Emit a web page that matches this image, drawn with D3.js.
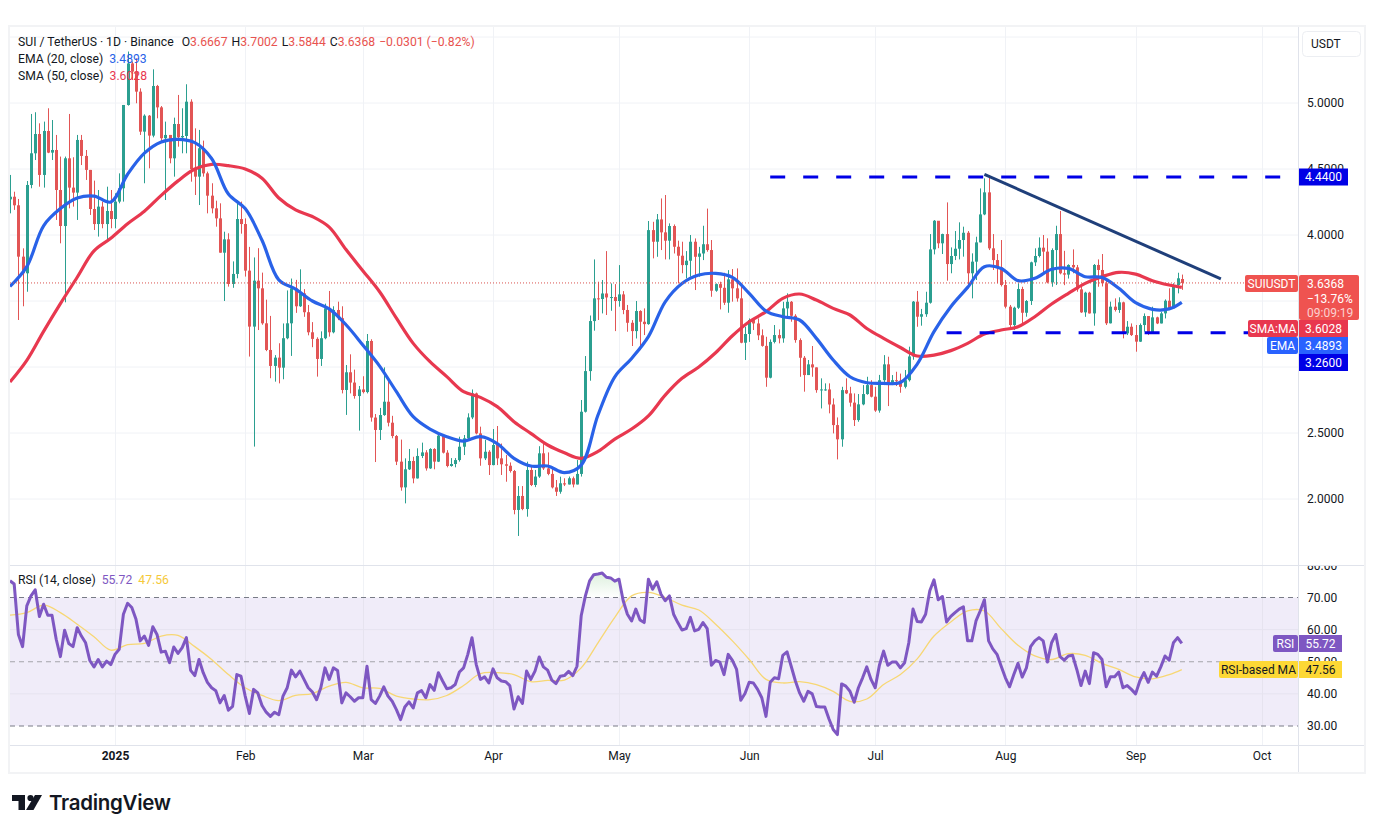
<!DOCTYPE html>
<html>
<head>
<meta charset="utf-8">
<title>SUIUSDT</title>
<script src="https://cdn.jsdelivr.net/npm/d3@7"></script>
<style>
    html, body { margin: 0; padding: 0; background: #fff; }
    svg { display: block; }
    text { font-family: Roboto, sans-serif; font-size: 12px; fill: #131722; }
</style>
</head>
<body>
<div id="chart"></div>
<script>
// daily bars, first bar is 7 Dec 2024, one value per bar. open = previous close
const firstOpen = 4.27;
const closes = [
    4.29,4.225,3.836,3.71,4.379,4.619,4.765,4.455,4.788,4.624,
    4.644,4.341,4.068,4.581,4.359,4.321,4.72,4.599,4.493,4.197,
    4.083,4.215,4.083,4.182,4.121,4.253,4.354,4.985,5.30,5.238,
    5.086,4.783,4.904,4.753,5.129,4.967,4.733,4.758,4.581,4.841,
    4.74,4.75,5.01,4.50,4.442,4.657,4.467,4.298,4.202,4.126,
    3.866,3.967,3.629,3.705,4.121,4.083,3.73,3.306,3.654,3.596,
    3.331,3.129,3.008,3.071,2.995,3.218,3.331,3.596,3.46,3.558,
    3.415,3.263,3.213,3.061,3.218,3.445,3.263,3.432,3.37,2.826,
    2.96,2.882,2.78,2.83,2.81,3.197,2.617,2.523,2.636,2.737,
    2.578,2.477,2.283,2.088,2.225,2.288,2.156,2.326,2.353,2.232,
    2.379,2.283,2.48,2.351,2.25,2.265,2.295,2.396,2.46,2.618,
    2.80,2.497,2.308,2.358,2.257,2.409,2.308,2.263,2.252,2.212,
    1.917,2.023,1.924,2.22,2.106,2.17,2.346,2.232,2.19,2.088,
    2.055,2.119,2.11,2.157,2.11,2.19,2.661,2.969,3.348,3.52,
    3.515,3.557,3.527,3.53,3.5,3.55,3.432,3.335,3.272,3.424,
    3.343,3.325,4.037,3.949,4.118,4.02,3.957,4.068,3.911,3.843,
    3.772,3.805,3.949,3.835,3.86,3.93,3.886,3.578,3.628,3.6,
    3.487,3.664,3.596,3.52,3.184,3.25,3.356,3.33,3.24,3.16,
    2.919,3.19,3.242,3.217,3.444,3.494,3.388,3.204,3.07,2.939,
    3.02,2.997,2.825,2.83,2.83,2.716,2.56,2.452,2.825,2.80,
    2.73,2.598,2.717,2.795,2.863,2.775,2.67,2.90,3.02,2.876,
    2.90,2.897,2.85,2.90,3.08,3.495,3.381,3.40,3.487,3.891,
    4.108,3.937,4.007,3.78,3.841,3.896,3.962,4.017,3.71,3.798,
    3.944,4.156,4.323,3.899,3.81,3.755,3.621,3.457,3.318,3.449,
    3.591,3.411,3.50,3.793,3.841,3.904,3.874,3.641,3.886,4.007,
    3.71,3.70,3.773,3.755,3.588,3.414,3.563,3.406,3.773,3.735,
    3.634,3.331,3.457,3.432,3.49,3.255,3.305,3.242,3.192,3.318,
    3.386,3.26,3.376,3.33,3.406,3.502,3.444,3.621,3.672,3.6368
];
const highs = [
    4.455,4.328,4.273,3.899,4.409,4.917,4.93,4.846,4.859,4.96,
    4.871,4.758,4.594,4.594,4.917,4.589,4.758,4.758,4.644,4.493,
    4.412,4.341,4.253,4.366,4.341,4.316,4.467,4.985,5.39,5.313,
    5.339,5.111,4.914,4.909,5.255,5.137,4.977,4.859,4.758,4.889,
    5.061,4.96,5.142,5.028,4.808,4.796,4.715,4.48,4.392,4.26,
    4.24,4.025,4.013,3.80,4.265,4.253,4.126,3.91,3.83,3.90,
    3.715,3.51,3.387,3.09,3.18,3.33,3.58,3.67,3.66,3.74,
    3.59,3.47,3.34,3.225,3.27,3.48,3.576,3.46,3.495,3.46,
    3.015,3.096,2.98,2.856,2.93,3.25,3.21,2.644,2.69,2.997,
    2.894,2.63,2.485,2.45,2.308,2.379,2.32,2.384,2.427,2.37,
    2.385,2.385,2.497,2.49,2.37,2.31,2.31,2.472,2.485,2.649,
    2.83,2.806,2.548,2.447,2.37,2.53,2.553,2.42,2.333,2.277,
    2.22,2.098,2.098,2.283,2.245,2.22,2.40,2.42,2.353,2.245,
    2.144,2.169,2.157,2.17,2.17,2.295,2.75,3.083,3.39,3.815,
    3.646,3.659,3.878,3.633,3.628,3.772,3.575,3.47,3.355,3.50,
    3.43,3.444,4.106,4.10,4.159,4.277,4.303,4.088,4.08,3.957,
    3.949,3.878,4.0,3.974,3.91,4.07,4.2,3.962,3.633,3.646,
    3.714,3.734,3.742,3.747,3.608,3.305,3.368,3.368,3.368,3.285,
    3.229,3.209,3.318,3.285,3.494,3.558,3.50,3.40,3.217,3.083,
    3.053,3.159,2.997,2.914,2.876,2.876,2.762,2.618,2.85,2.914,
    2.85,2.80,2.795,2.863,2.926,2.90,2.85,2.94,3.09,3.078,
    2.939,2.964,2.95,2.977,3.154,3.50,3.576,3.44,3.57,4.007,
    4.113,4.106,4.01,4.247,3.906,4.03,4.096,4.063,4.03,3.861,
    3.987,4.353,4.429,4.454,4.007,3.856,3.962,3.659,3.47,3.457,
    3.634,3.608,3.507,3.798,3.899,3.982,4.0,3.975,3.899,4.07,
    4.182,3.88,3.778,3.891,3.773,3.62,3.57,3.57,3.78,3.815,
    3.856,3.659,3.495,3.52,3.528,3.495,3.348,3.33,3.318,3.33,
    3.406,3.386,3.457,3.381,3.419,3.512,3.596,3.634,3.714,3.7002
];
const lows = [
    4.164,4.19,3.356,3.46,3.57,4.354,4.568,4.366,4.359,4.62,
    4.568,4.114,3.937,3.49,4.202,4.215,4.114,4.53,4.417,4.152,
    4.038,3.988,4.051,3.962,4.051,4.051,4.24,4.253,4.98,5.174,
    4.998,4.758,4.392,4.505,4.74,4.884,4.707,4.265,4.543,4.442,
    4.669,4.619,4.619,4.404,4.303,4.227,4.442,4.164,4.164,4.063,
    3.866,3.5,3.609,3.60,3.672,4.01,3.685,3.079,2.397,3.28,
    3.32,3.12,2.915,2.889,2.876,2.907,3.21,3.084,3.41,3.455,
    3.38,3.24,3.15,2.927,3.008,3.21,3.23,3.255,3.355,2.80,
    2.637,2.80,2.76,2.518,2.80,2.80,2.586,2.28,2.447,2.63,
    2.55,2.46,2.257,2.063,1.967,2.22,2.119,2.155,2.31,2.215,
    2.228,2.225,2.28,2.345,2.24,2.245,2.24,2.283,2.333,2.447,
    2.605,2.49,2.252,2.295,2.182,2.255,2.257,2.182,2.131,2.2,
    1.884,1.72,1.915,1.866,2.098,2.09,2.16,2.22,2.18,2.08,
    2.023,2.04,2.098,2.11,2.088,2.11,2.17,2.655,2.896,3.275,
    3.356,3.406,3.394,3.426,3.272,3.457,3.40,3.267,3.159,3.216,
    3.128,3.242,3.32,3.823,3.835,3.886,3.815,3.815,3.86,3.633,
    3.71,3.671,3.684,3.583,3.684,3.81,3.873,3.532,3.57,3.436,
    3.47,3.411,3.495,3.495,3.18,3.053,3.19,3.28,3.204,3.154,
    2.85,2.914,3.179,3.179,3.184,3.38,3.343,3.184,2.926,2.813,
    2.939,2.926,2.805,2.686,2.82,2.649,2.497,2.30,2.396,2.795,
    2.70,2.553,2.585,2.71,2.79,2.77,2.66,2.654,2.863,2.704,
    2.863,2.856,2.805,2.838,2.89,3.055,3.305,3.313,3.38,3.48,
    3.853,3.9,3.856,3.654,3.71,3.81,3.815,3.836,3.596,3.52,
    3.659,3.944,4.15,3.886,3.735,3.634,3.61,3.444,3.293,3.28,
    3.44,3.33,3.381,3.47,3.765,3.83,3.71,3.634,3.608,3.621,
    3.702,3.62,3.67,3.71,3.57,3.41,3.38,3.405,3.313,3.608,
    3.61,3.318,3.33,3.42,3.41,3.217,3.242,3.235,3.116,3.19,
    3.268,3.242,3.255,3.325,3.33,3.368,3.432,3.457,3.558,3.5844
];
// moving averages, last one on the last bar
const maBars = d3.range(0, 280, 4).concat([279]);
const emaValues = [
    3.61,3.76,4.07,4.20,4.28,4.295,4.25,4.46,4.62,4.705,
    4.725,4.70,4.58,4.31,4.20,3.96,3.66,3.59,3.50,3.44,
    3.32,3.167,3.007,2.813,2.624,2.53,2.472,2.439,2.472,2.42,
    2.308,2.25,2.25,2.20,2.257,2.636,2.926,3.065,3.23,3.494,
    3.633,3.697,3.709,3.679,3.558,3.424,3.381,3.356,3.217,3.053,
    2.926,2.881,2.876,2.883,3.022,3.268,3.457,3.603,3.76,3.747,
    3.654,3.672,3.74,3.747,3.684,3.679,3.596,3.487,3.437,3.44,3.4893
];
const smaValues = [
    2.886,3.05,3.27,3.48,3.68,3.88,3.975,4.085,4.18,4.30,
    4.41,4.50,4.535,4.525,4.50,4.43,4.28,4.19,4.14,4.06,
    3.89,3.73,3.57,3.37,3.179,3.04,2.927,2.813,2.77,2.70,
    2.586,2.497,2.409,2.35,2.308,2.36,2.454,2.53,2.63,2.787,
    2.914,3.0,3.108,3.237,3.343,3.419,3.52,3.553,3.507,3.444,
    3.394,3.292,3.217,3.148,3.083,3.09,3.124,3.179,3.25,3.28,
    3.305,3.381,3.477,3.558,3.634,3.684,3.717,3.704,3.654,3.621,3.6028
];
const rsiValues = [
    75.2,74.2,58.5,54.7,67.4,70.5,72.4,64.1,67.9,64.5,
    64.5,57,51.6,59.8,55.7,54.7,60.6,58,55.9,50.4,
    48.4,50.7,48.4,50.2,49.1,52.3,53.9,64.8,68.2,66.9,
    63.2,56.5,58,55.1,60.9,58.5,53,53.3,49.7,54.6,
    52.6,54.4,57.5,47.3,45.7,50.7,46.6,43.6,41.9,41,
    37.2,39.5,34.9,36.1,46,45.5,39.3,33.9,41.4,40.3,
    36.4,34.3,33,34.3,33.5,39.3,41.9,47.4,45.3,47.1,
    44.5,41.9,40.6,38.2,41.9,48.1,44.5,48.1,47.3,37.2,
    40.3,39.1,37.7,38.8,38.8,48.6,38.2,37,39.3,42.2,
    39.3,37.7,35.1,32,35.9,37.5,35.6,40.3,41,38.8,
    42.9,41.1,46.6,44,41.6,41.9,42.9,46.8,48.1,52.3,
    57.5,49.2,44.5,45.3,43.4,47.8,45,44,43.8,42.6,
    35.3,39.1,37,47.1,44.5,47.1,51.5,48.4,47.4,44.3,
    43.2,45.5,45.7,47,45.7,48.6,64.3,70.5,75.2,77.1,
    77.3,77.6,76.3,76.1,75.1,75.7,69,64.8,62.7,66.4,
    63,62.2,75.7,72.6,74.9,71,69,70.5,64.8,62.2,
    59.9,60.3,63.8,59.6,60.1,62.2,60.3,48.9,50.4,49.9,
    46,52.3,50.4,47.6,38,40.1,43.6,43.4,41.4,38.8,
    33,43.6,45,44.7,52,53.1,48.6,44,40.3,37.7,
    40.8,40,36.1,35.9,35.9,32.2,28.9,27.3,43.1,42.4,
    40.8,37.4,41.9,45,48.4,44.5,41.9,48.9,53.3,48.9,
    49.9,49.9,48.1,49.7,55.9,66.4,62.5,62.4,64.8,72.1,
    75.5,69.3,70.3,62.4,64.1,65.3,66.4,67.1,56.5,56.5,
    62.7,65.8,69.3,56.5,54,52.3,48.6,45,42.2,46,
    49.5,45.2,48.1,54.7,56.5,57.5,56.5,49.9,55.9,58.5,
    51.6,50.5,51.8,52,47.6,42.6,47.1,43.2,52.8,52.3,
    50.7,42.2,45.3,45.3,46.8,41.9,42.6,41.4,40,44,
    46.6,43.6,46.8,45.5,48.4,51.8,50.5,55.9,57.5,55.72
];
const rsiMaValues = [
    64.5,65.3,67.6,65.3,61.7,57.8,53.6,55.3,55.7,58,
    58.2,54.7,50.7,46,41.9,39.5,37.9,39.5,40.1,42.4,
    43.6,41.9,41.7,39.3,38.4,38.2,39.5,42.6,46.3,46.6,
    46,43.8,44.2,44.3,48.1,55.9,63.8,70.5,71.6,70,
    67.6,66.1,61.7,56.5,50.7,44.5,43.4,43.8,42.9,40.8,
    37.7,38.4,42.9,46,50.9,58,62.4,65.8,65.8,60.3,
    55.1,51.8,50.7,52.5,52,49.5,47.6,45.3,44.7,46,47.56
];
const gridPrices = [5.5, 5, 4.5, 4, 3.5, 3, 2.5, 2];
const priceTicks = [5, 4.5, 4, 2.5, 2];
const rsiTicks = [80, 70, 60, 50, 40, 30];
const rsiGuides = [70, 50, 30];
const monthTicks = ["2025-01-01","2025-02-01","2025-03-01","2025-04-01","2025-05-01","2025-06-01","2025-07-01","2025-08-01","2025-09-01","2025-10-01"];
const monthLabels = ["2025","Feb","Mar","Apr","May","Jun","Jul","Aug","Sep","Oct"];
// drawings: bar index and price
const resistance = {from: 181, to: 303, price: 4.44};
const support = {from: 223, to: 303, price: 3.26};
const trendBars = [232, 288.3];
const trendPrices = [4.46, 3.667];

const width = 1374, height = 833;
const paneLeft = 10, paneRight = 1298, frameRight = 1364;
const mainTop = 27, mainBottom = 565, rsiTop = 566, rsiBottom = 745, frameBottom = 772;
const firstDay = new Date(Date.UTC(2024, 11, 7));
const barDate = i => firstDay.getTime() + i * 864e5;

const x = d3.scaleUtc().domain([firstDay, new Date(Date.UTC(2025, 9, 1))]).range([paneLeft, paneLeft + 4.2 * 298]);
const bx = i => x(barDate(i));
const y = d3.scaleLinear().domain([5, 2]).range([103, 499]);
const yRsi = d3.scaleLinear().domain([70, 30]).range([597.5, 726]);

const upColor = "#2b9f90", downColor = "#e25555";
const emaColor = "#2962e8", smaColor = "#e8384f", rsiColor = "#7e57c2", rsiMaColor = "#f7d774";
const tagBlue = "#0000e6";

const svg = d3.select("#chart").append("svg").attr("width", width).attr("height", height);
const defs = svg.append("defs");
defs.append("clipPath").attr("id", "mainClip").append("rect")
    .attr("x", paneLeft).attr("y", mainTop).attr("width", paneRight - paneLeft).attr("height", mainBottom - mainTop);
defs.append("clipPath").attr("id", "rsiClip").append("rect")
    .attr("x", paneLeft).attr("y", rsiTop).attr("width", paneRight - paneLeft).attr("height", rsiBottom - rsiTop);
defs.append("clipPath").attr("id", "obClip").append("rect")
    .attr("x", paneLeft).attr("y", rsiTop).attr("width", paneRight - paneLeft).attr("height", yRsi(70) - rsiTop);
defs.append("clipPath").attr("id", "axisClip").append("rect")
    .attr("x", paneRight).attr("y", mainTop).attr("width", frameRight - paneRight).attr("height", rsiBottom - mainTop);
defs.append("clipPath").attr("id", "rsiAxisClip").append("rect")
    .attr("x", paneRight).attr("y", rsiTop).attr("width", frameRight - paneRight).attr("height", rsiBottom - rsiTop);
const obGrad = defs.append("linearGradient").attr("id", "obGrad").attr("gradientUnits", "userSpaceOnUse")
    .attr("x1", 0).attr("x2", 0).attr("y1", yRsi(78)).attr("y2", yRsi(70));
obGrad.append("stop").attr("offset", "0%").attr("stop-color", "#4caf50").attr("stop-opacity", 0.2);
obGrad.append("stop").attr("offset", "100%").attr("stop-color", "#4caf50").attr("stop-opacity", 0);

// frame and grid
const gridColor = "#f0f2f6";
const months = monthTicks.map(d => new Date(d + "T00:00:00Z"));
svg.append("g").selectAll("line").data(months).join("line")
    .attr("x1", d => Math.round(x(d)) + 0.5).attr("x2", d => Math.round(x(d)) + 0.5)
    .attr("y1", mainTop).attr("y2", rsiBottom).attr("stroke", gridColor);
svg.append("g").selectAll("line").data(gridPrices).join("line")
    .attr("x1", paneLeft).attr("x2", paneRight).attr("y1", d => y(d)).attr("y2", d => y(d)).attr("stroke", gridColor);

// rsi background sits under its grid
svg.append("rect").attr("x", paneLeft).attr("width", paneRight - paneLeft)
    .attr("y", yRsi(70)).attr("height", yRsi(30) - yRsi(70)).attr("fill", "#f0ecf9");
svg.append("g").selectAll("line").data([60, 40]).join("line")
    .attr("x1", paneLeft).attr("x2", paneRight).attr("y1", d => yRsi(d)).attr("y2", d => yRsi(d)).attr("stroke", "#e6e3ef");
svg.append("g").selectAll("line").data(months).join("line")
    .attr("x1", d => Math.round(x(d)) + 0.5).attr("x2", d => Math.round(x(d)) + 0.5)
    .attr("y1", yRsi(70)).attr("y2", yRsi(30)).attr("stroke", "#e6e3ef");

// candles
const main = svg.append("g").attr("clip-path", "url(#mainClip)");
const bars = closes.map((c, i) => ({i, close: c, open: i ? closes[i - 1] : firstOpen, high: highs[i], low: lows[i]}));
bars[279].open = 3.6667;
const barColor = d => d.close >= d.open ? upColor : downColor;
main.append("g").attr("class", "wicks").selectAll("line").data(bars).join("line")
    .attr("x1", d => Math.round(bx(d.i)) + 0.5).attr("x2", d => Math.round(bx(d.i)) + 0.5)
    .attr("y1", d => y(d.high)).attr("y2", d => y(d.low))
    .attr("stroke", barColor).attr("stroke-width", 1);
main.append("g").attr("class", "bodies").selectAll("rect").data(bars).join("rect")
    .attr("x", d => Math.round(bx(d.i)) - 1).attr("width", 3)
    .attr("y", d => y(Math.max(d.open, d.close)))
    .attr("height", d => Math.max(1, Math.abs(y(d.open) - y(d.close))))
    .attr("fill", barColor);

// moving averages
const maLine = d3.line().x((d, i) => bx(maBars[i])).y(d => y(d)).curve(d3.curveCatmullRom);
main.append("path").attr("d", maLine(smaValues)).attr("fill", "none").attr("stroke", smaColor).attr("stroke-width", 3.2);
main.append("path").attr("d", maLine(emaValues)).attr("fill", "none").attr("stroke", emaColor).attr("stroke-width", 3.2);

// last price
svg.append("line").attr("x1", paneLeft).attr("x2", 1245).attr("y1", y(3.6368)).attr("y2", y(3.6368))
    .attr("stroke", "#d9534f").attr("stroke-dasharray", "1 2");

// drawings
[resistance, support].forEach(l => {
    main.append("line").attr("x1", bx(l.from)).attr("x2", bx(l.to)).attr("y1", y(l.price)).attr("y2", y(l.price))
        .attr("stroke", tagBlue).attr("stroke-width", 3).attr("stroke-dasharray", "15 18");
});
main.append("line").attr("x1", bx(trendBars[0])).attr("x2", bx(trendBars[1]))
    .attr("y1", y(trendPrices[0])).attr("y2", y(trendPrices[1]))
    .attr("stroke", "#1f3f7a").attr("stroke-width", 3);

// rsi pane
const rsi = svg.append("g").attr("clip-path", "url(#rsiClip)");
rsi.selectAll("line.guide").data(rsiGuides).join("line").attr("class", "guide")
    .attr("x1", paneLeft).attr("x2", paneRight).attr("y1", d => yRsi(d)).attr("y2", d => yRsi(d))
    .attr("stroke", d => d === 50 ? "#a4a4aa" : "#787b86").attr("stroke-dasharray", "5 4");
rsi.append("path").attr("clip-path", "url(#obClip)")
    .attr("d", d3.area().x((d, i) => bx(i)).y0(yRsi(70)).y1(d => yRsi(d))(rsiValues))
    .attr("fill", "url(#obGrad)");
const rsiMaLine = d3.line().x((d, i) => bx(maBars[i])).y(d => yRsi(d)).curve(d3.curveCatmullRom);
rsi.append("path").attr("d", rsiMaLine(rsiMaValues)).attr("fill", "none").attr("stroke", rsiMaColor).attr("stroke-width", 1.3);
rsi.append("path").attr("d", d3.line().x((d, i) => bx(i)).y(d => yRsi(d))(rsiValues))
    .attr("fill", "none").attr("stroke", rsiColor).attr("stroke-width", 3).attr("stroke-linejoin", "round");

// axes
const axisFont = g => g.selectAll("text").style("font-family", "Roboto").style("font-size", "12px").attr("fill", "#131722");
svg.append("g").attr("clip-path", "url(#axisClip)").append("g").attr("transform", `translate(${paneRight},0)`)
    .call(d3.axisRight(y).tickValues(priceTicks).tickFormat(d3.format(".4f")).tickSize(0).tickPadding(9))
    .call(g => g.select(".domain").remove())
    .call(axisFont);
svg.append("g").attr("clip-path", "url(#rsiAxisClip)").append("g").attr("transform", `translate(${paneRight},0)`)
    .call(d3.axisRight(yRsi).tickValues(rsiTicks).tickFormat(d3.format(".2f")).tickSize(0).tickPadding(9))
    .call(g => g.select(".domain").remove())
    .call(axisFont);
svg.append("g").attr("transform", `translate(0,${rsiBottom})`)
    .call(d3.axisBottom(x).tickValues(months).tickFormat((d, i) => monthLabels[i]).tickSize(0).tickPadding(6))
    .call(g => g.select(".domain").remove())
    .call(axisFont)
    .call(g => g.selectAll("text").style("font-weight", (d, i) => i === 0 ? 700 : 400));

// pane separators and frame
const lines = svg.append("g").attr("stroke", "#e0e3eb");
lines.append("line").attr("x1", paneLeft).attr("x2", frameRight).attr("y1", mainBottom + 0.5).attr("y2", mainBottom + 0.5);
lines.append("line").attr("x1", paneLeft).attr("x2", frameRight).attr("y1", rsiBottom + 0.5).attr("y2", rsiBottom + 0.5);
lines.append("line").attr("x1", paneRight + 0.5).attr("x2", paneRight + 0.5).attr("y1", mainTop).attr("y2", frameBottom);
svg.append("rect").attr("x", paneLeft - 1).attr("y", mainTop - 1).attr("width", frameRight - paneLeft + 2)
    .attr("height", frameBottom - mainTop + 2).attr("fill", "none").attr("stroke", "#f2f3f5").attr("stroke-width", 2);

// tags on the price scale
function tag(x0, y0, w, h, fill, label, color, corners) {
    const g = svg.append("g");
    g.append("rect").attr("x", x0).attr("y", y0).attr("width", w).attr("height", h).attr("rx", corners || 0).attr("fill", fill);
    g.append("text").attr("x", x0 + w / 2).attr("y", y0 + h / 2 + 4.2).attr("text-anchor", "middle")
        .style("fill", color || "#fff").text(label);
}
const tagLeft = paneRight + 1;
tag(tagLeft, 168.5, 49, 17, tagBlue, "4.4400");
tag(tagLeft, 320, 49, 17, "#e8384f", "3.6028");
tag(1248, 320, 50, 17, "#e8384f", "SMA:MA", "#fff", 2);
tag(tagLeft, 337, 49, 17, "#2962ff", "3.4893");
tag(1267, 337, 31, 17, "#2962ff", "EMA", "#fff", 2);
tag(tagLeft, 354, 49, 17, tagBlue, "3.2600");
svg.append("rect").attr("x", tagLeft).attr("y", 275).attr("width", 60).attr("height", 45).attr("rx", 2).attr("fill", "#ef5350");
tag(1245, 275, 53, 17, "#ef5350", "SUIUSDT", "#fff", 2);
const priceLines = [["3.6368", "#fff"], ["\u221213.76%", "#fff"], ["09:09:19", "#fbd0cf"]];
svg.append("g").selectAll("text").data(priceLines).join("text")
    .attr("x", 1307).attr("y", (d, i) => 288 + i * 14.5).style("fill", d => d[1]).text(d => d[0]);
tag(1273, 635, 25, 17, rsiColor, "RSI", "#fff", 2);
tag(tagLeft, 635, 43, 17, rsiColor, "55.72");
tag(1219, 661, 79, 17, "#fdd835", "RSI-based MA", "#131722", 2);
tag(tagLeft, 661, 43, 17, "#fdd835", "47.56", "#131722");

// currency button
svg.append("rect").attr("x", 1302.5).attr("y", 31.5).attr("width", 58).attr("height", 25).attr("rx", 4)
    .attr("fill", "#fff").attr("stroke", "#eceef2");
svg.append("text").attr("x", 1311).attr("y", 48).text("USDT");

// legends
const legend = svg.append("g");
const headerRed = "#e8534f";
const h1 = legend.append("text").attr("x", 18).attr("y", 46);
h1.append("tspan").text("SUI / TetherUS \u00b7 1D \u00b7 Binance");
[["O", "3.6667"], ["H", "3.7002"], ["L", "3.5844"], ["C", "3.6368"]].forEach((d, i) => {
    h1.append("tspan").attr("dx", i ? 4 : 8).text(d[0]);
    h1.append("tspan").style("fill", headerRed).text(d[1]);
});
h1.append("tspan").attr("dx", 4).style("fill", headerRed).text("\u22120.0301 (\u22120.82%)");
const h2 = legend.append("text").attr("x", 18).attr("y", 63);
h2.append("tspan").text("EMA (20, close)");
h2.append("tspan").attr("dx", 6).style("fill", "#2962e8").text("3.4893");
const h3 = legend.append("text").attr("x", 18).attr("y", 80);
h3.append("tspan").text("SMA (50, close)");
h3.append("tspan").attr("dx", 6).style("fill", "#e8384f").text("3.6028");
const h4 = legend.append("text").attr("x", 18).attr("y", 584);
h4.append("tspan").text("RSI (14, close)");
h4.append("tspan").attr("dx", 6).style("fill", rsiColor).text("55.72");
h4.append("tspan").attr("dx", 6).style("fill", "#f5c93a").text("47.56");
legend.selectAll("text").style("font-size", "12.2px");

// logo
const logo = svg.append("g").attr("fill", "#131722");
logo.append("path").attr("d", "M12 795H25V810H18.5V801H12Z");
logo.append("circle").attr("cx", 30.5).attr("cy", 798).attr("r", 3.1);
logo.append("path").attr("d", "M35 795H42L33.5 810H26Z");
svg.append("text").attr("x", 49).attr("y", 810)
    .style("font-family", "Inter").style("font-size", "20.5px").style("font-weight", 600).style("letter-spacing", "-0.3px")
    .text("TradingView");
</script>
</body>
</html>
